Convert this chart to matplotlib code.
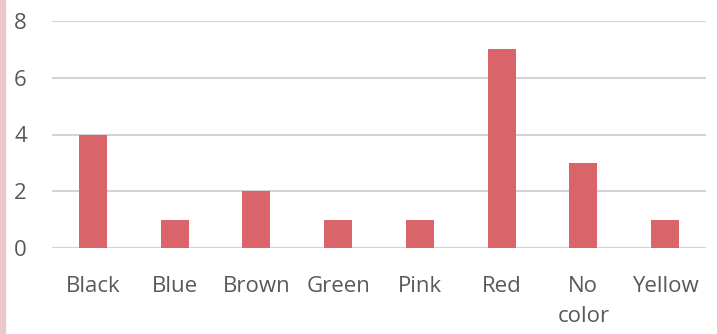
import matplotlib
matplotlib.use("Agg")
import matplotlib.pyplot as plt
from matplotlib.patches import Rectangle

colors = ["Black", "Blue", "Brown", "Green", "Pink", "Red", "No\ncolor", "Yellow"]
counts = [4, 1, 2, 1, 1, 7, 3, 1]
yticks = [0, 2, 4, 6, 8]

plt.rcParams['font.family'] = ['Open Sans', 'DejaVu Sans']

fig = plt.figure(figsize=(7.17, 3.34), dpi=100)
ax = fig.add_axes([52 / 717, 1 - 248 / 334, 654 / 717, 227 / 334])

x = range(len(colors))
ax.bar(x, counts, width=0.34, color="#d9646a", zorder=3)

ax.set_xlim(-0.5, len(colors) - 0.5)
ax.set_ylim(0, 8)
ax.set_yticks(yticks)
ax.set_xticks(list(x))
ax.set_xticklabels(colors, linespacing=1.6)
ax.tick_params(axis="y", length=0, pad=18, labelsize=16, labelcolor="#595959")
ax.tick_params(axis="x", length=0, pad=20, labelsize=16, labelcolor="#595959")

ax.grid(axis="y", color="#d4d4d4", linewidth=1.5, zorder=0)
for s in ax.spines.values():
    s.set_visible(False)

# pink border strip along the left edge
fig.patches.append(Rectangle((0, 0), 5 / 717, 1, transform=fig.transFigure,
                             color="#ebc7c8", zorder=0))

fig.savefig("out.png", dpi=100)
